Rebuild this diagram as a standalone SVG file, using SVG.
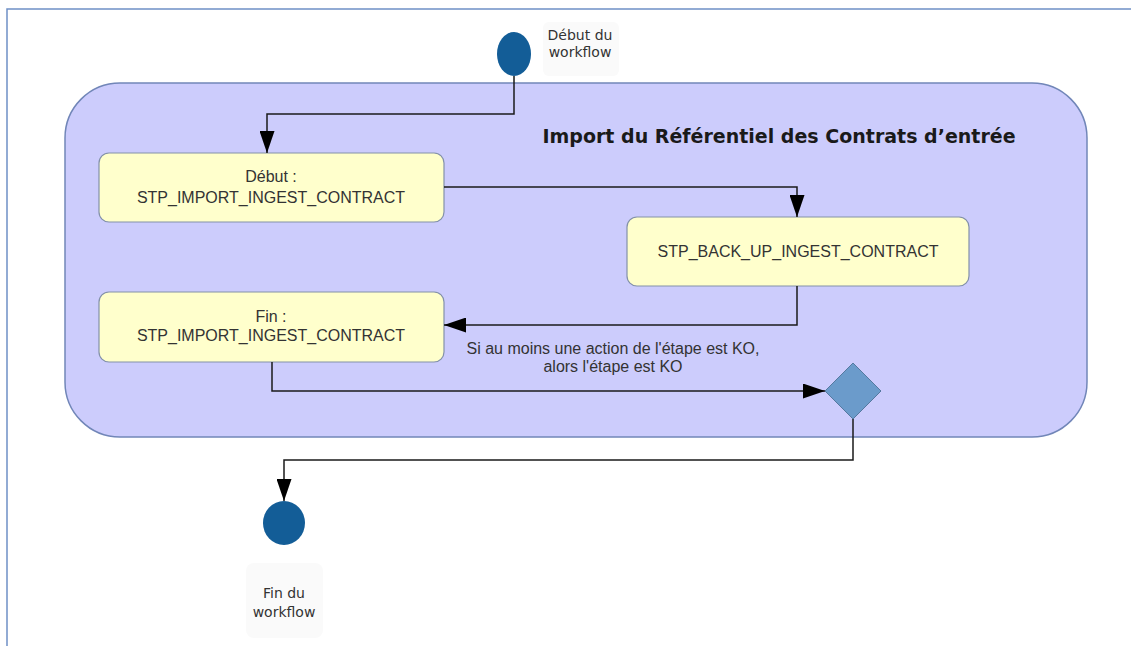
<svg xmlns="http://www.w3.org/2000/svg" width="1131" height="646" viewBox="0 0 1131 646">
<style>
.frame{stroke:#6f90c6;stroke-width:1.5;fill:none}
.cont{fill:#ccccfc;stroke:#7186b8;stroke-width:1.5}
.node{fill:#ffffcc;stroke:#8391a8;stroke-width:1.2}
.ini{fill:#135d97}
.dia{fill:#6b9bcb;stroke:#55799f;stroke-width:1}
.lbg{fill:#fafafa}
.con{fill:none;stroke:#1a1a1a;stroke-width:1.5}
.t{font-family:"Liberation Sans",Arial,sans-serif;font-size:16px;fill:#333;text-anchor:middle}
.tl{font-family:"DejaVu Sans",sans-serif;font-size:14px;fill:#333;text-anchor:middle}
.title{font-family:"DejaVu Sans",sans-serif;font-size:19px;font-weight:bold;fill:#1a1a1a;text-anchor:middle}
</style>
<defs>
<marker id="arr" viewBox="0 0 22 15" refX="22" refY="7.5" markerWidth="22" markerHeight="15" markerUnits="userSpaceOnUse" orient="auto">
<path d="M0,0 L22,7.5 L0,15 Z" fill="#000"/>
</marker>
</defs>
<path class="frame" d="M7,646 L7,9 L1131,9"/>
<g id="container">
<rect class="cont" x="65" y="83" width="1022" height="354" rx="55" ry="55"/>
<text class="title" x="779" y="143">Import du Référentiel des Contrats d’entrée</text>
</g>
<g id="start">
<ellipse class="ini" cx="514" cy="54" rx="17" ry="22"/>
<rect class="lbg" x="543" y="22" width="76" height="54" rx="6"/>
<text class="tl" x="580" y="40">Début du</text>
<text class="tl" x="580" y="57">workflow</text>
</g>
<g id="n1">
<rect class="node" x="99" y="153" width="345" height="69" rx="10"/>
<text class="t" x="271" y="182">Début :</text>
<text class="t" x="271" y="203">STP_IMPORT_INGEST_CONTRACT</text>
</g>
<g id="n2">
<rect class="node" x="627" y="217" width="342" height="69" rx="10"/>
<text class="t" x="798" y="257">STP_BACK_UP_INGEST_CONTRACT</text>
</g>
<g id="n3">
<rect class="node" x="99" y="292" width="345" height="70" rx="10"/>
<text class="t" x="271" y="322">Fin :</text>
<text class="t" x="271" y="341">STP_IMPORT_INGEST_CONTRACT</text>
</g>
<g id="decision">
<path class="dia" d="M853,363 L881,391 L853,419 L825,391 Z"/>
</g>
<g id="end">
<ellipse class="ini" cx="284" cy="523" rx="21" ry="22"/>
<rect class="lbg" x="246" y="563" width="77" height="75" rx="8"/>
<text class="tl" x="284" y="598">Fin du</text>
<text class="tl" x="284" y="617">workflow</text>
</g>
<g id="connectors">
<path class="con" marker-end="url(#arr)" d="M514,76 L514,114 L267,114 L267,153"/>
<path class="con" marker-end="url(#arr)" d="M444,187 L797,187 L797,217"/>
<path class="con" marker-end="url(#arr)" d="M797,286 L797,325 L444,325"/>
<path class="con" marker-end="url(#arr)" d="M272,362 L272,391 L825,391"/>
<path class="con" marker-end="url(#arr)" d="M853,419 L853,460 L284,460 L284,501"/>
<text class="t" x="613" y="354">Si au moins une action de l'étape est KO,</text>
<text class="t" x="613" y="372">alors l'étape est KO</text>
</g>
</svg>
